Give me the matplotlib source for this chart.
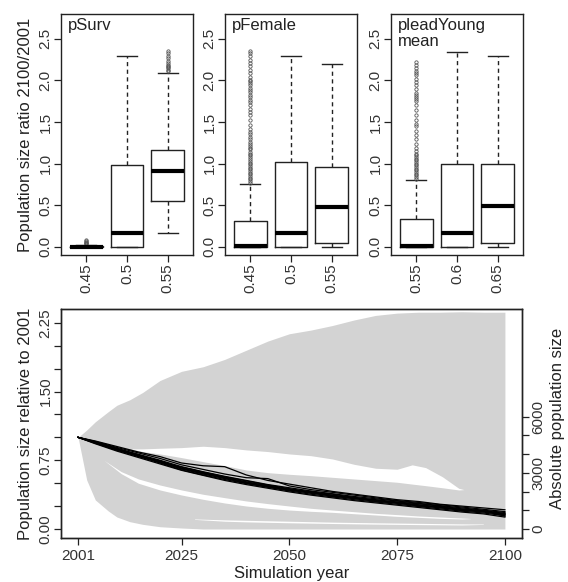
import numpy as np
import matplotlib.pyplot as plt

plt.rcParams['font.family'] = ['Liberation Sans', 'DejaVu Sans']
plt.rcParams['axes.linewidth'] = 1.0

# ---- top row: box plots of population size ratio 2100/2001 ----
panel_titles = ["pSurv", "pFemale", "pleadYoung\nmean"]
panel_levels = [["0.45", "0.5", "0.55"],
                ["0.45", "0.5", "0.55"],
                ["0.55", "0.6", "0.65"]]

surv_q1 = [0.0, 0.0, 0.545]
surv_med = [0.0, 0.164, 0.905]
surv_q3 = [0.006, 0.978, 1.158]
surv_lo = [0.0, 0.0, 0.164]
surv_hi = [0.02, 2.29, 2.095]
surv_fliers = [[0.03, 0.04, 0.05, 0.06, 0.07, 0.08],
               [],
               [2.12, 2.13, 2.15, 2.16, 2.18, 2.19, 2.21, 2.24, 2.27, 2.30, 2.33, 2.35]]

fem_q1 = [0.0, 0.0, 0.04]
fem_med = [0.005, 0.164, 0.477]
fem_q3 = [0.305, 1.018, 0.962]
fem_lo = [0.0, 0.0, 0.0]
fem_hi = [0.753, 2.29, 2.195]
fem_fliers = [[0.77, 0.79, 0.81, 0.83, 0.85, 0.87, 0.89, 0.91, 0.93, 0.95, 0.97, 0.99,
               1.01, 1.03, 1.05, 1.08, 1.10, 1.12, 1.14, 1.17, 1.19, 1.21, 1.23, 1.26,
               1.29, 1.32, 1.35, 1.38, 1.42, 1.47, 1.53, 1.58, 1.62, 1.66, 1.70, 1.74,
               1.77, 1.80, 1.83, 1.86, 1.89, 1.91, 1.94, 1.97, 1.99, 2.01, 2.04, 2.09,
               2.13, 2.17, 2.21, 2.25, 2.29, 2.33, 2.36],
              [],
              []]

young_q1 = [0.0, 0.0, 0.04]
young_med = [0.01, 0.164, 0.485]
young_q3 = [0.333, 1.0, 0.99]
young_lo = [0.0, 0.0, 0.0]
young_hi = [0.80, 2.34, 2.29]
young_fliers = [[0.82, 0.84, 0.86, 0.88, 0.90, 0.92, 0.94, 0.96, 0.98, 1.00, 1.02, 1.04,
                 1.06, 1.08, 1.10, 1.12, 1.15, 1.19, 1.24, 1.29, 1.34, 1.39, 1.45, 1.48,
                 1.52, 1.58, 1.64, 1.70, 1.75, 1.78, 1.80, 1.82, 1.85, 1.90, 1.94, 1.98,
                 2.02, 2.06, 2.09, 2.12, 2.15, 2.19, 2.22],
                [],
                []]

panel_stats = [(surv_q1, surv_med, surv_q3, surv_lo, surv_hi, surv_fliers),
               (fem_q1, fem_med, fem_q3, fem_lo, fem_hi, fem_fliers),
               (young_q1, young_med, young_q3, young_lo, young_hi, young_fliers)]

# ---- bottom: trajectories relative to 2001 ----
# grey cloud of all simulations (envelope)
g_years = [2001, 2003, 2005, 2008, 2010, 2013, 2016, 2020, 2025, 2030, 2035, 2040,
           2045, 2050, 2055, 2060, 2065, 2070, 2075, 2080, 2085, 2090, 2095, 2100]
g_top = [1.0, 1.08, 1.17, 1.28, 1.35, 1.41, 1.49, 1.62, 1.72, 1.77, 1.85, 1.95,
         2.05, 2.13, 2.17, 2.22, 2.28, 2.33, 2.355, 2.365, 2.365, 2.37, 2.365, 2.365]
g_low = [1.0, 0.535, 0.317, 0.197, 0.131, 0.08, 0.051, 0.025, 0.011, 0.0, 0.0, 0.0,
         0.0, 0.0, 0.0, 0.0, 0.0, 0.0, 0.0, 0.0, 0.0, 0.0, 0.0, 0.0]

# white gaps inside the grey cloud
gap_years = [2013.3, 2016, 2020, 2025, 2030, 2035, 2040, 2045, 2050, 2055, 2060,
             2065, 2070, 2075, 2078.5, 2081.6, 2085.5, 2089.3, 2090.5]
gap_top = [0.874, 0.874, 0.881, 0.888, 0.903, 0.888, 0.863, 0.845, 0.819, 0.80, 0.764,
           0.706, 0.663, 0.652, 0.70, 0.67, 0.57, 0.444, 0.43]
gap_low = [0.872, 0.845, 0.819, 0.779, 0.735, 0.692, 0.644, 0.615, 0.597, 0.582, 0.564,
           0.546, 0.528, 0.51, 0.49, 0.473, 0.45, 0.426, 0.43]

strip_years = [2007, 2011, 2015, 2020, 2025, 2030, 2035, 2040, 2045, 2050, 2055,
               2060, 2065, 2070, 2075, 2080, 2085, 2090, 2092]
strip_top = [0.75, 0.626, 0.546, 0.48, 0.426, 0.379, 0.342, 0.306, 0.277, 0.251, 0.226,
             0.207, 0.189, 0.171, 0.157, 0.142, 0.131, 0.12, 0.115]
strip_low = [0.75, 0.604, 0.499, 0.426, 0.371, 0.324, 0.284, 0.251, 0.226, 0.207, 0.193,
             0.182, 0.167, 0.153, 0.138, 0.127, 0.116, 0.109, 0.113]

strip2_years = [2028, 2035, 2040, 2050, 2060, 2070, 2080, 2090, 2095]
strip2_top = [0.11, 0.10, 0.095, 0.085, 0.075, 0.068, 0.062, 0.056, 0.055]
strip2_low = [0.105, 0.085, 0.078, 0.068, 0.06, 0.053, 0.048, 0.044, 0.05]

# black trajectories
b_years = [2001, 2005, 2010, 2015, 2020, 2025, 2030, 2035, 2040, 2045, 2050,
           2055, 2060, 2065, 2070, 2075, 2080, 2085, 2090, 2095, 2100]
black_runs = [
    [1.0, 0.96, 0.90, 0.84, 0.79, 0.72, 0.69, 0.68, 0.59, 0.53, 0.49, 0.45, 0.41, 0.38, 0.35, 0.32, 0.30, 0.27, 0.25, 0.23, 0.21],
    [1.0, 0.955, 0.89, 0.83, 0.77, 0.70, 0.65, 0.60, 0.56, 0.55, 0.47, 0.43, 0.40, 0.37, 0.34, 0.31, 0.29, 0.265, 0.24, 0.215, 0.19],
    [1.0, 0.95, 0.88, 0.815, 0.75, 0.68, 0.625, 0.575, 0.53, 0.485, 0.45, 0.415, 0.385, 0.355, 0.33, 0.305, 0.28, 0.255, 0.23, 0.205, 0.18],
    [1.0, 0.945, 0.875, 0.80, 0.74, 0.665, 0.61, 0.56, 0.515, 0.47, 0.435, 0.40, 0.37, 0.34, 0.315, 0.29, 0.265, 0.24, 0.215, 0.195, 0.165],
    [1.0, 0.94, 0.865, 0.795, 0.73, 0.655, 0.60, 0.55, 0.50, 0.46, 0.425, 0.39, 0.36, 0.33, 0.305, 0.28, 0.255, 0.23, 0.205, 0.185, 0.155],
    [1.0, 0.935, 0.86, 0.79, 0.72, 0.645, 0.59, 0.54, 0.495, 0.455, 0.415, 0.38, 0.35, 0.32, 0.295, 0.27, 0.245, 0.22, 0.195, 0.175, 0.145],
    [1.0, 0.93, 0.85, 0.78, 0.71, 0.64, 0.585, 0.53, 0.485, 0.445, 0.405, 0.37, 0.34, 0.31, 0.285, 0.26, 0.235, 0.21, 0.185, 0.165, 0.13],
    [1.0, 0.95, 0.87, 0.81, 0.735, 0.675, 0.62, 0.57, 0.525, 0.48, 0.44, 0.405, 0.38, 0.345, 0.32, 0.295, 0.275, 0.25, 0.22, 0.20, 0.17],
    [1.0, 0.94, 0.88, 0.80, 0.745, 0.66, 0.605, 0.555, 0.51, 0.465, 0.43, 0.395, 0.365, 0.335, 0.31, 0.285, 0.26, 0.235, 0.21, 0.19, 0.16],
    [1.0, 0.945, 0.86, 0.805, 0.725, 0.66, 0.615, 0.565, 0.505, 0.475, 0.42, 0.41, 0.355, 0.345, 0.30, 0.29, 0.25, 0.245, 0.20, 0.20, 0.14],
]

abs_per_unit = 4900  # individuals corresponding to a ratio of 1
abs_ticks = [0, 1000, 2000, 3000, 4000, 5000, 6000]
abs_labels = ["0", "", "", "3000", "", "", "6000"]

grey = '#d3d3d3'
ink = '#222222'
tick_kw = dict(length=5, width=0.9, colors=ink, labelsize=11, labelcolor='#333333')

fig = plt.figure(figsize=(5.68, 5.82), dpi=100)
W, H = 568, 582


def px_axes(left, top, right, bottom):
    return fig.add_axes([left / W, 1 - bottom / H, (right - left) / W, (bottom - top) / H])


top_lefts = [61, 225, 391]
for i, (q1, med, q3, lo, hi, fl) in enumerate(panel_stats):
    ax = px_axes(top_lefts[i], 14, top_lefts[i] + 132, 255)
    stats = [dict(q1=q1[k], med=med[k], q3=q3[k], whislo=lo[k], whishi=hi[k],
                  fliers=fl[k]) for k in range(3)]
    ax.bxp(stats, positions=[1, 2, 3], widths=0.8, capwidths=0.5,
           boxprops=dict(color=ink, lw=1),
           medianprops=dict(color='black', lw=3, solid_capstyle='butt'),
           whiskerprops=dict(color=ink, lw=1, ls=(0, (3, 2.5))),
           capprops=dict(color=ink, lw=1),
           flierprops=dict(marker='o', ms=2.4, mfc='none', mec='#555555', mew=0.6, ls='none'))
    ax.set_xlim(0.38, 3.62)
    ax.set_ylim(-0.1, 2.8)
    ax.set_yticks([0, 0.5, 1.0, 1.5, 2.0, 2.5])
    ax.set_yticklabels(["0.0", "0.5", "1.0", "1.5", "2.0", "2.5"], rotation=90, va='center')
    ax.set_xticks([1, 2, 3])
    ax.set_xticklabels(panel_levels[i], rotation=90)
    ax.tick_params(axis='both', pad=1, **tick_kw)
    for s in ax.spines.values():
        s.set_color(ink)
    ax.text(0.05, 0.985, panel_titles[i], transform=ax.transAxes, ha='left', va='top',
            fontsize=12, color=ink, linespacing=1.15)
    if i == 0:
        ax.set_ylabel("Population size ratio 2100/2001", fontsize=12, color=ink, labelpad=4)

ax = px_axes(61, 309, 522, 538)
ax.fill_between(g_years, g_low, g_top, color=grey, lw=0)
ax.fill_between(gap_years, gap_low, gap_top, color='white', lw=0)
ax.fill_between(strip_years, strip_low, strip_top, color='white', lw=0)
ax.fill_between(strip2_years, strip2_low, strip2_top, color='white', lw=0)
for run in black_runs:
    ax.plot(b_years, run, color='black', lw=0.9)
ax.set_xlim(1997.04, 2103.96)
ax.set_ylim(-0.098, 2.40)
ax.set_xticks([2001, 2025, 2050, 2075, 2100])
ax.set_yticks(np.arange(0, 2.26, 0.25))
ax.set_yticklabels(["0.00", "", "", "0.75", "", "", "1.50", "", "", "2.25"],
                   rotation=90, va='center')
ax.tick_params(axis='both', pad=1, **tick_kw)
ax.tick_params(axis='x', pad=3)
for s in ax.spines.values():
    s.set_color(ink)
ax.set_xlabel("Simulation year", fontsize=12, color=ink, labelpad=2)
ax.set_ylabel("Population size relative to 2001", fontsize=12, color=ink, labelpad=4)

axr = ax.twinx()
lo_, hi_ = ax.get_ylim()
axr.set_ylim(lo_ * abs_per_unit, hi_ * abs_per_unit)
axr.set_yticks(abs_ticks)
axr.set_yticklabels(abs_labels, rotation=90, va='center')
axr.tick_params(axis='y', pad=2, **tick_kw)
for s in axr.spines.values():
    s.set_color(ink)
axr.set_ylabel("Absolute population size", fontsize=12, color=ink, labelpad=5)
axr.yaxis.set_label_coords(1.06, 0.524)

fig.savefig("out.png", dpi=100)
